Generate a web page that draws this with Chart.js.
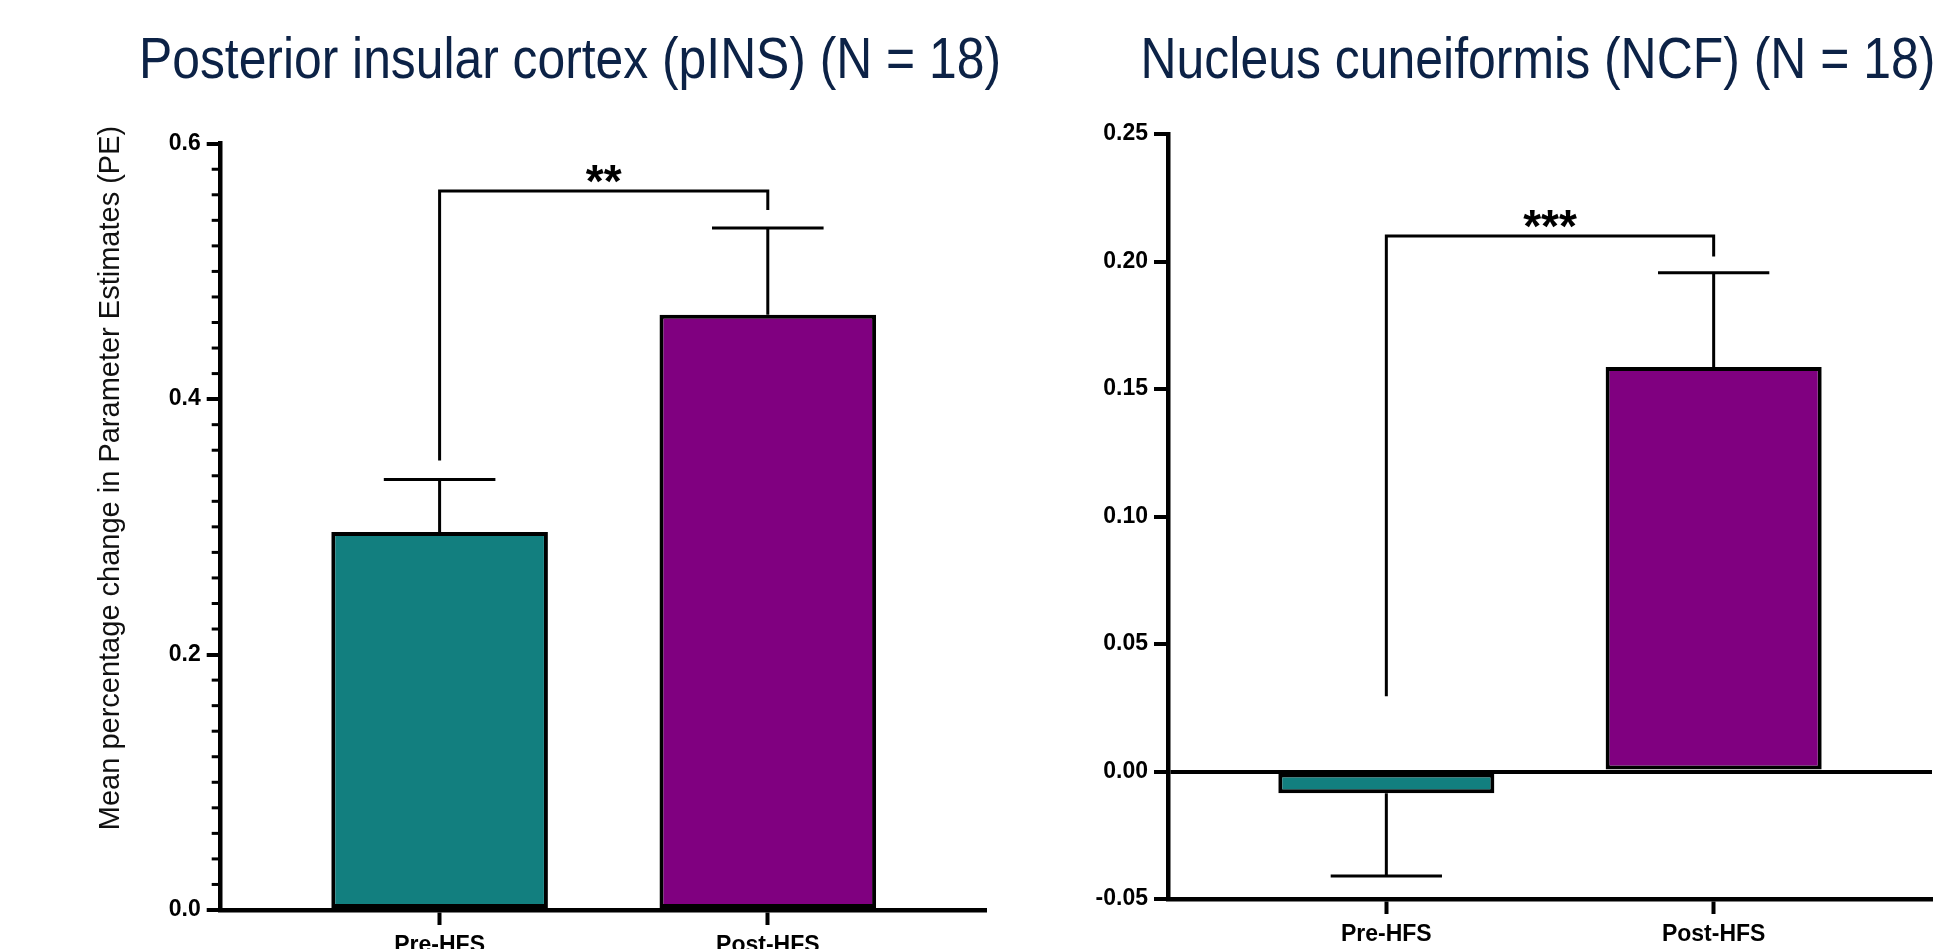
<!DOCTYPE html>
<html>
<head>
<meta charset="utf-8">
<title>pINS / NCF parameter estimates</title>
<script src="https://cdn.jsdelivr.net/npm/chart.js@4.4.1/dist/chart.umd.min.js"></script>
<style>
  html, body { margin: 0; padding: 0; background: #fff; overflow: hidden; }
  #wrap { position: relative; width: 1943px; height: 949px; }
  canvas { position: absolute; top: 0; }
  #pinsChart { left: 0; }
  #ncfChart { left: 1040px; }
</style>
</head>
<body>
<div id="wrap">
  <canvas id="pinsChart" width="1040" height="949"></canvas>
  <canvas id="ncfChart" width="903" height="949"></canvas>
</div>
<script>
// data
const categories = ["Pre-HFS", "Post-HFS"];
const pinsTitle = "Posterior insular cortex (pINS) (N = 18)";
const ncfTitle = "Nucleus cuneiformis (NCF) (N = 18)";
const yAxisTitle = "Mean percentage change in Parameter Estimates (PE)";

const pinsMeans = [0.296, 0.466];
const pinsErrors = [0.041, 0.068];
const pinsBracket = [0.352, 0.563, 0.548]; // left leg end, top, right leg end
const pinsStars = "**";
const pinsTicks = [0, 0.2, 0.4, 0.6];
const pinsMinorTicks = [0.02, 0.04, 0.06, 0.08, 0.1, 0.12, 0.14, 0.16, 0.18,
  0.22, 0.24, 0.26, 0.28, 0.3, 0.32, 0.34, 0.36, 0.38,
  0.42, 0.44, 0.46, 0.48, 0.5, 0.52, 0.54, 0.56, 0.58];

const ncfMeans = [-0.0085, 0.1586];
const ncfErrors = [0.0325, 0.037];
const ncfBracket = [0.0295, 0.21, 0.202];
const ncfStars = "***";
const ncfTicks = [-0.05, 0, 0.05, 0.1, 0.15, 0.2, 0.25];

const colors = ["#127f7f", "#800080"];
const tickFont = { family: "'Liberation Sans', Arial, sans-serif", size: 23, weight: "bold" };

const errorBarPlugin = {
  id: "errorBars",
  afterDatasetsDraw(chart, args, opts) {
    const { ctx, scales: { x, y } } = chart;
    const values = chart.data.datasets[0].data;
    ctx.save();
    ctx.strokeStyle = "#000";
    ctx.lineWidth = 3;
    values.forEach((pt, i) => {
      const end = pt.y + Math.sign(pt.y) * opts.errors[i];
      const px = x.getPixelForValue(pt.x);
      const half = x.getPixelForValue(pt.x + 0.17) - px;
      const y0 = y.getPixelForValue(pt.y);
      const y1 = y.getPixelForValue(end);
      ctx.beginPath();
      ctx.moveTo(px, y0);
      ctx.lineTo(px, y1);
      ctx.moveTo(px - half, y1);
      ctx.lineTo(px + half, y1);
      ctx.stroke();
    });
    ctx.restore();
  }
};

const bracketPlugin = {
  id: "sigBracket",
  afterDatasetsDraw(chart, args, opts) {
    const { ctx, scales: { x, y } } = chart;
    const x1 = x.getPixelForValue(1);
    const x2 = x.getPixelForValue(2);
    const top = y.getPixelForValue(opts.levels[1]);
    ctx.save();
    ctx.strokeStyle = "#000";
    ctx.lineWidth = 3;
    ctx.beginPath();
    ctx.moveTo(x1, y.getPixelForValue(opts.levels[0]));
    ctx.lineTo(x1, top);
    ctx.lineTo(x2, top);
    ctx.lineTo(x2, y.getPixelForValue(opts.levels[2]));
    ctx.stroke();
    ctx.fillStyle = "#000";
    ctx.font = "bold 46px 'Liberation Sans', Arial, sans-serif";
    ctx.textAlign = "center";
    ctx.textBaseline = "alphabetic";
    ctx.fillText(opts.label, (x1 + x2) / 2, top + 6);
    ctx.restore();
  }
};

const minorTickPlugin = {
  id: "minorTicks",
  afterDraw(chart, args, opts) {
    if (!opts.values) return;
    const { ctx, scales: { y } } = chart;
    const ax = chart.chartArea.left;
    ctx.save();
    ctx.strokeStyle = "#000";
    ctx.lineWidth = 3;
    opts.values.forEach(v => {
      const py = y.getPixelForValue(v);
      ctx.beginPath();
      ctx.moveTo(ax - 9, py);
      ctx.lineTo(ax, py);
      ctx.stroke();
    });
    ctx.restore();
  }
};

// panel titles are condensed, so squeeze them to the width seen in the figure
const panelTextPlugin = {
  id: "panelText",
  afterDraw(chart, args, opts) {
    const ctx = chart.ctx;
    ctx.save();
    ctx.fillStyle = "#0c2246";
    ctx.font = "57px 'Liberation Sans', Arial, sans-serif";
    ctx.textAlign = "center";
    ctx.textBaseline = "alphabetic";
    const w = ctx.measureText(opts.title).width;
    ctx.translate(opts.titleX, 78);
    ctx.scale(opts.titleWidth / w, 1);
    ctx.fillText(opts.title, 0, 0);
    ctx.restore();
    if (opts.yTitle) {
      ctx.save();
      ctx.fillStyle = "#111";
      ctx.font = "29px 'Liberation Sans', Arial, sans-serif";
      ctx.textAlign = "center";
      ctx.translate(111, 478);
      ctx.rotate(-Math.PI / 2);
      ctx.textBaseline = "middle";
      ctx.fillText(opts.yTitle, 0, 0);
      ctx.restore();
    }
  }
};

function makeChart(id, p) {
  const isMajor = v => p.ticks.some(t => Math.abs(t - v) < 1e-9);
  return new Chart(document.getElementById(id), {
    type: "bar",
    data: {
      datasets: [{
        data: p.means.map((v, i) => ({ x: i + 1, y: v })),
        backgroundColor: colors,
        borderColor: "#000",
        borderWidth: 4,
        borderSkipped: false,
        barPercentage: 0.66,
        categoryPercentage: 1
      }]
    },
    options: {
      responsive: false,
      animation: false,
      layout: { padding: { top: p.top, right: p.right, left: 0, bottom: 0 } },
      scales: {
        x: {
          type: "linear",
          offset: false,
          min: 1 - 0.667,
          max: 2 + 0.667,
          afterBuildTicks: s => { s.ticks = categories.map((c, i) => ({ value: i + 1 })); },
          afterFit: s => { s.height = p.xHeight; },
          border: { color: "#000", width: 4.5 },
          grid: { offset: false, drawOnChartArea: false, tickLength: 15, tickWidth: 4, tickColor: "#000" },
          ticks: {
            autoSkip: false, maxRotation: 0, padding: 7, color: "#000", font: tickFont,
            callback: v => categories[v - 1] || ""
          }
        },
        y: {
          min: p.ticks[0],
          max: p.ticks[p.ticks.length - 1],
          afterBuildTicks: s => { s.ticks = p.ticks.map(v => ({ value: v })); },
          afterFit: s => { s.width = p.yWidth; },
          border: { color: "#000", width: 4.5 },
          grid: {
            drawOnChartArea: p.zeroLine,
            color: c => (c.tick && c.tick.value === 0 ? "#000" : "rgba(0,0,0,0)"),
            lineWidth: 4,
            tickLength: 14,
            tickWidth: 4,
            tickColor: "#000"
          },
          ticks: {
            autoSkip: false, padding: 6, color: "#000", font: tickFont,
            callback: v => (isMajor(v) ? v.toFixed(p.digits) : "")
          }
        }
      },
      plugins: {
        legend: { display: false },
        tooltip: { enabled: false },
        errorBars: { errors: p.errors },
        sigBracket: { levels: p.bracket, label: p.stars },
        minorTicks: { values: p.minor },
        panelText: { title: p.title, titleX: p.titleX, titleWidth: p.titleWidth, yTitle: p.yTitle }
      }
    },
    plugins: [errorBarPlugin, bracketPlugin, minorTickPlugin, panelTextPlugin]
  });
}

makeChart("pinsChart", {
  means: pinsMeans, errors: pinsErrors, bracket: pinsBracket, stars: pinsStars,
  ticks: pinsTicks, minor: pinsMinorTicks, digits: 1, zeroLine: false,
  top: 143.7, right: 53.3, yWidth: 220.7, xHeight: 39,
  title: pinsTitle, titleX: 570, titleWidth: 862, yTitle: yAxisTitle
});

makeChart("ncfChart", {
  means: ncfMeans, errors: ncfErrors, bracket: ncfBracket, stars: ncfStars,
  ticks: ncfTicks, minor: null, digits: 2, zeroLine: true,
  top: 134, right: 11, yWidth: 128, xHeight: 50,
  title: ncfTitle, titleX: 498, titleWidth: 795, yTitle: null
});
</script>
</body>
</html>
